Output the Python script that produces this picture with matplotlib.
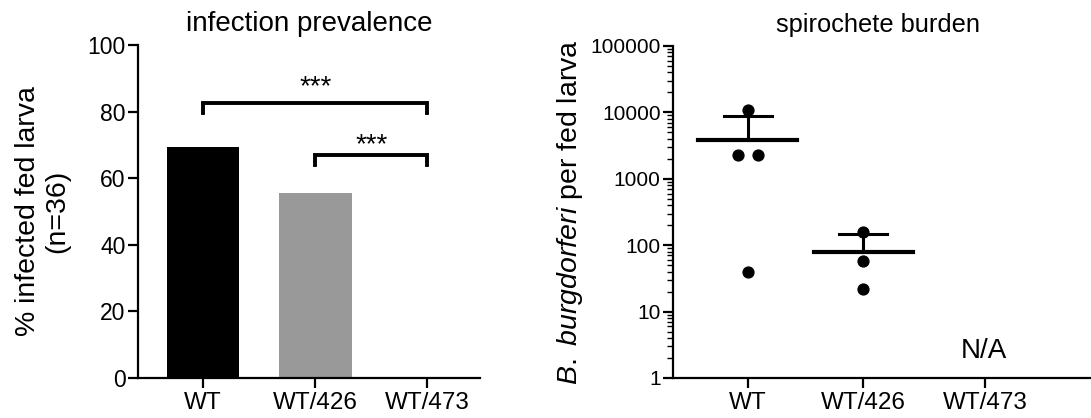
import matplotlib
matplotlib.use("Agg")
from matplotlib import pyplot as plt
import numpy as np

plt.rcParams['font.family'] = ['Liberation Sans', 'DejaVu Sans']
plt.rcParams['mathtext.fontset'] = 'custom'
plt.rcParams['mathtext.rm'] = 'Liberation Sans'
plt.rcParams['mathtext.it'] = 'Liberation Sans:italic'

groups = ["WT", "WT/426", "WT/473"]

# infection prevalence (%)
prevalence = [69.4, 55.6, 0]
bar_colors = ["black", "#999999", "white"]
# significance brackets: (from, to, bracket height, label height, label)
brackets = [(0, 2, 82.5, 83.5, "***"), (1, 2, 67, 66, "***")]

# spirochete burden per fed larva
wt_points = [11000, 2300, 2300, 40]
wt_jitter = [0, -0.083, 0.083, 0]
wt426_points = [158, 58, 22]
burden_mean = [3900, 79]
burden_sd = [4800, 70]


def _style(ax, ysize):
    for s in ["top", "right"]:
        ax.spines[s].set_visible(False)
    for s in ["left", "bottom"]:
        ax.spines[s].set_linewidth(1.6)
    ax.tick_params(width=1.6, length=7, color="black")
    ax.tick_params(axis="y", labelsize=ysize, pad=2)
    ax.tick_params(axis="x", length=7, pad=3, labelsize=17.5)


fig = plt.figure(figsize=(10.91, 4.18), dpi=100)

# left panel
ax1 = fig.add_axes([0.1265, 0.0957, 0.3135, 0.7966])
xs = np.arange(len(groups))
ax1.bar(xs, prevalence, width=0.65, color=bar_colors)
for a, b, h, th, lab in brackets:
    ax1.plot([a, a, b, b], [h - 3, h, h, h - 3], color="black", lw=2.8,
             solid_joinstyle="miter")
    ax1.text((a + b) / 2, th, lab, ha="center", va="bottom", fontsize=20)
ax1.set_xlim(-0.58, 2.47)
ax1.set_ylim(0, 100)
ax1.set_yticks([0, 20, 40, 60, 80, 100])
ax1.set_xticks(xs)
ax1.set_xticklabels(groups)
ax1.set_ylabel("% infected fed larva\n(n=36)", fontsize=20.5, labelpad=12,
               linespacing=1.2)
ax1.set_title("infection prevalence", fontsize=20, pad=10)
_style(ax1, 16.5)

# right panel
ax2 = fig.add_axes([0.617, 0.0957, 0.383, 0.7943])
ax2.set_yscale("log")
ax2.plot(np.array(wt_jitter), wt_points, "o", color="black", ms=7.8)
ax2.plot(np.ones(len(wt426_points)), wt426_points, "o", color="black", ms=7.8)
for i, (m, sd) in enumerate(zip(burden_mean, burden_sd)):
    ax2.plot([i - 0.43, i + 0.43], [m, m], color="black", lw=3.0)
    ax2.plot([i, i], [m, m + sd], color="black", lw=2.2)
    ax2.plot([i - 0.21, i + 0.21], [m + sd, m + sd], color="black", lw=2.2)
ax2.text(2.05, 1.6, "N/A", ha="center", va="bottom", fontsize=20)
ax2.set_xlim(-0.65, 2.98)
ax2.set_ylim(1, 100000)
ax2.set_yticks([1, 10, 100, 1000, 10000, 100000])
ax2.set_yticklabels(["1", "10", "100", "1000", "10000", "100000"])
ax2.set_xticks([0, 1, 2.06])
ax2.set_xticklabels(groups)
ax2.set_ylabel(r"$\mathit{B.\ burgdorferi}$ per fed larva", fontsize=20.5,
               labelpad=4)
ax2.set_title("spirochete burden", fontsize=18.3, pad=10, x=0.49)
_style(ax2, 15)
ax2.tick_params(axis="y", which="minor", width=1.0, length=4)

fig.savefig("out.png", dpi=100)
